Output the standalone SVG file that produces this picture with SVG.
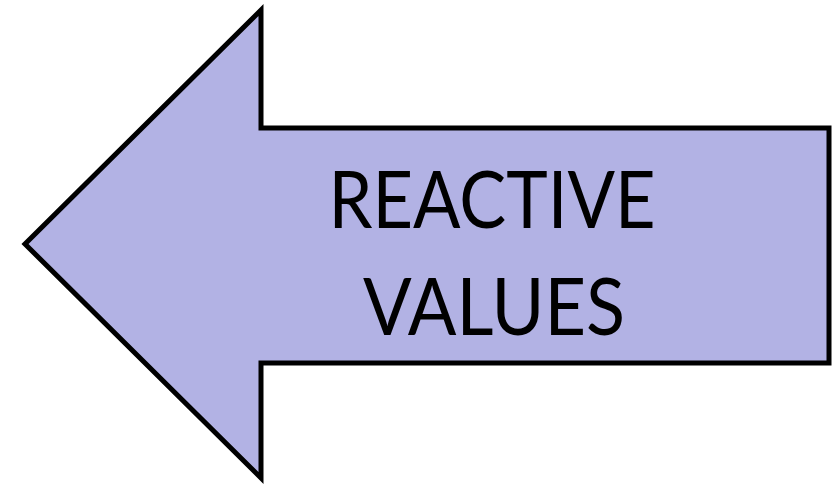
<svg xmlns="http://www.w3.org/2000/svg" width="833" height="484" viewBox="0 0 833 484">
  <style>
    .arrow { fill: #b2b2e4; stroke: #000; stroke-width: 5; stroke-linejoin: miter; stroke-miterlimit: 10; }
    .label { font-family: Lato, "Open Sans", "Liberation Sans", sans-serif; font-size: 80px; fill: #000; text-anchor: middle; }
  </style>
  <rect width="833" height="484" fill="#fff"/>
  <g id="reactive-values">
    <polygon class="arrow" points="261,10 261,128 829,128 829,363 261,363 261,478 25,244"/>
    <text class="label" x="492" y="228" textLength="327" lengthAdjust="spacingAndGlyphs">REACTIVE</text>
    <text class="label" x="494" y="335" textLength="262" lengthAdjust="spacingAndGlyphs">VALUES</text>
  </g>
</svg>
